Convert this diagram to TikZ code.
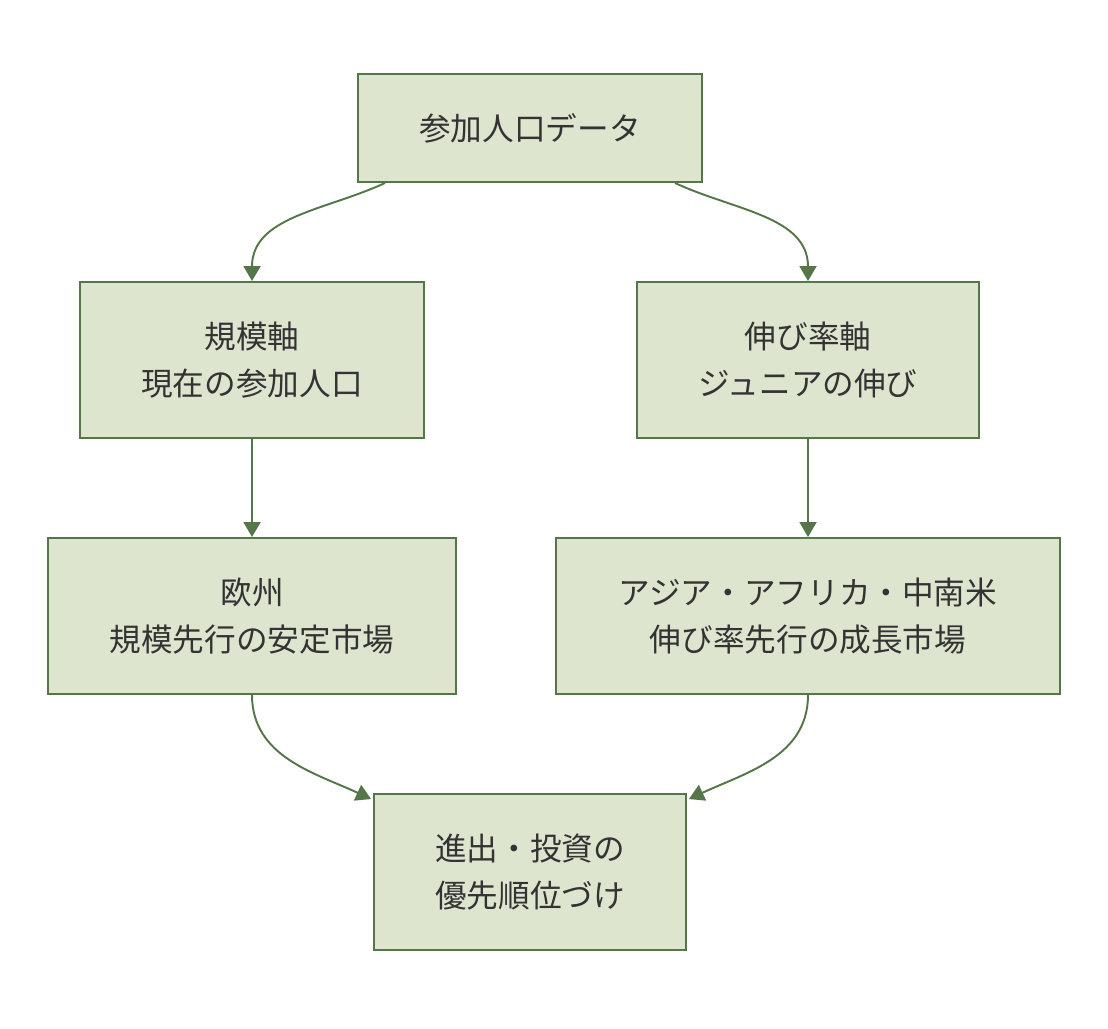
\documentclass[tikz,border=0pt]{standalone}
\usepackage{fontspec}
\setmainfont{Noto Sans CJK JP}
\usetikzlibrary{arrows.meta,positioning}
\definecolor{BoxFill}{RGB}{221,229,207}
\definecolor{BoxLine}{RGB}{84,118,72}
\definecolor{TextDark}{RGB}{51,51,51}
\tikzset{
  gbox/.style={draw=BoxLine,fill=BoxFill,line width=1.1pt,inner sep=0pt,
               align=center,text=TextDark,font=\fontsize{18}{26.7}\selectfont},
  arr/.style={-{Triangle[length=0.3cm,width=0.34cm]},BoxLine,line width=1.1pt},
}
\begin{document}
\begin{tikzpicture}[x=0.02cm,y=-0.02cm]
  \useasboundingbox (0,0) rectangle (1108,1028);
  \node[gbox,minimum width=6.88cm,minimum height=2.16cm] (src) at (530,128) {参加人口データ};
  \node[gbox,minimum width=6.88cm,minimum height=3.12cm] (size) at (252,360) {規模軸\\現在の参加人口};
  \node[gbox,minimum width=6.84cm,minimum height=3.12cm] (growth) at (808,360) {伸び率軸\\ジュニアの伸び};
  \node[gbox,minimum width=8.16cm,minimum height=3.12cm] (europe) at (252,616) {欧州\\規模先行の安定市場};
  \node[gbox,minimum width=10.08cm,minimum height=3.12cm] (emerging) at (808,616) {アジア・アフリカ・中南米\\伸び率先行の成長市場};
  \node[gbox,minimum width=6.24cm,minimum height=3.12cm] (prio) at (530,872) {進出・投資の\\優先順位づけ};

  \draw[arr] ([xshift=-2.9cm]src.south) to[out=-155,in=90] (size.north);
  \draw[arr] ([xshift=2.9cm]src.south) to[out=-25,in=90] (growth.north);
  \draw[arr] (size) -- (europe);
  \draw[arr] (growth) -- (emerging);
  \draw[arr] (europe.south) to[out=-90,in=155] ([xshift=-0.04cm,yshift=-0.12cm]prio.north west);
  \draw[arr] (emerging.south) to[out=-90,in=25] ([xshift=0.04cm,yshift=-0.12cm]prio.north east);
\end{tikzpicture}
\end{document}
